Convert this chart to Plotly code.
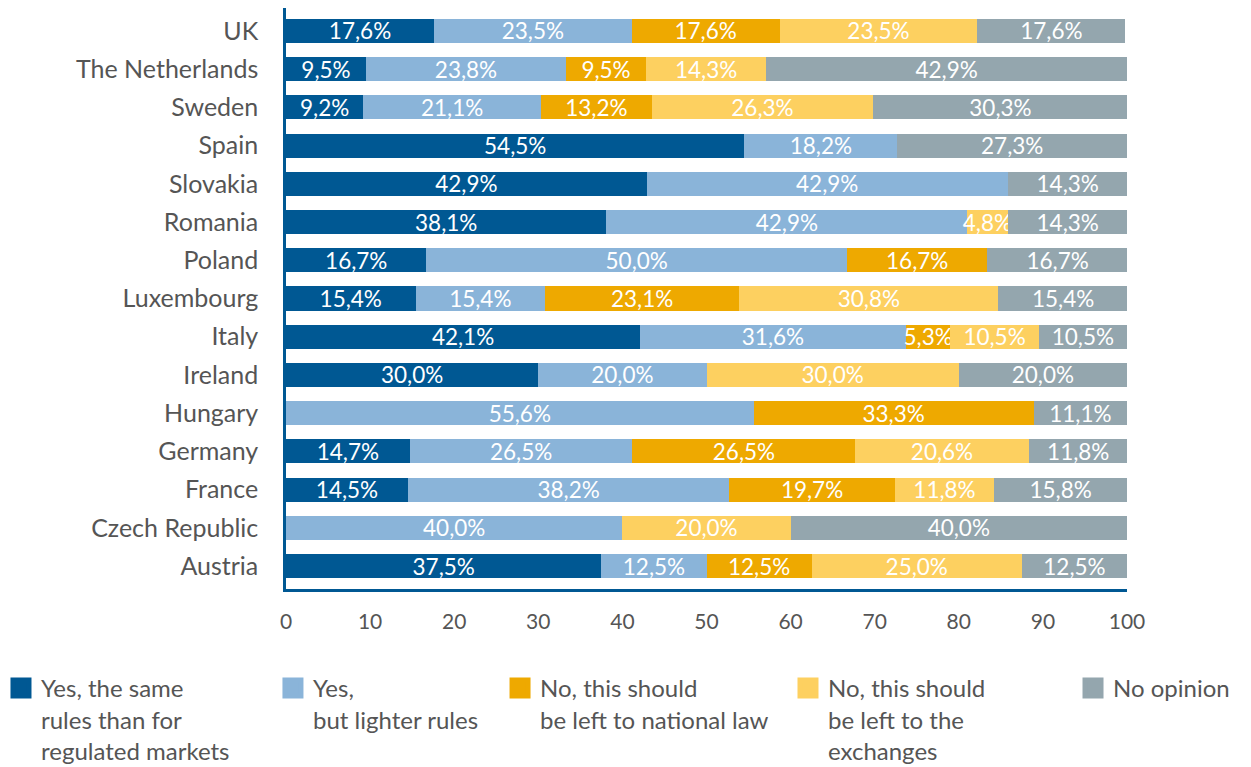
import plotly.graph_objects as go

countries = ["UK", "The Netherlands", "Sweden", "Spain", "Slovakia", "Romania", "Poland",
             "Luxembourg", "Italy", "Ireland", "Hungary", "Germany", "France",
             "Czech Republic", "Austria"]

series_names = [
    "Yes, the same<br>rules than for<br>regulated markets",
    "Yes,<br>but lighter rules",
    "No, this should<br>be left to national law",
    "No, this should<br>be left to the<br>exchanges",
    "No opinion",
]

same_rules = [17.6, 9.5, 9.2, 54.5, 42.9, 38.1, 16.7, 15.4, 42.1, 30.0, None, 14.7, 14.5, None, 37.5]
lighter_rules = [23.5, 23.8, 21.1, 18.2, 42.9, 42.9, 50.0, 15.4, 31.6, 20.0, 55.6, 26.5, 38.2, 40.0, 12.5]
national_law = [17.6, 9.5, 13.2, None, None, None, 16.7, 23.1, 5.3, None, 33.3, 26.5, 19.7, None, 12.5]
exchanges = [23.5, 14.3, 26.3, None, None, 4.8, None, 30.8, 10.5, 30.0, None, 20.6, 11.8, 20.0, 25.0]
no_opinion = [17.6, 42.9, 30.3, 27.3, 14.3, 14.3, 16.7, 15.4, 10.5, 20.0, 11.1, 11.8, 15.8, 40.0, 12.5]

colors = ["#005893", "#8AB4D9", "#EEA900", "#FDD060", "#94A6AE"]
all_series = [same_rules, lighter_rules, national_law, exchanges, no_opinion]

FONT = "Lato"
TXT = "#555555"
legend_ids = ["legend", "legend2", "legend3", "legend4", "legend5"]
legend_x = [-0.3389, -0.0155, 0.2545, 0.5969, 0.9358]

fig = go.Figure()
for name, vals, col in zip(series_names, all_series, colors):
    fig.add_trace(go.Bar(
        y=countries, x=vals, name=name, orientation="h", showlegend=False,
        marker=dict(color=col, line=dict(width=0)),
        texttemplate="%{x:.1f}%", textposition="inside", insidetextanchor="middle",
        textfont=dict(color="white", size=22.5, family=FONT),
        constraintext="none",
    ))

# legend-only entries with larger square symbols
for name, col, lid in zip(series_names, colors, legend_ids):
    fig.add_trace(go.Scatter(
        x=[None], y=[None], mode="markers", name=name, legend=lid, showlegend=True,
        marker=dict(symbol="square", color=col, size=16, line=dict(color=col, width=5)),
        hoverinfo="skip",
    ))

legend_common = dict(
    orientation="v", xanchor="left", y=-0.1325, yanchor="top",
    font=dict(size=24, color=TXT, family=FONT), valign="top",
    itemsizing="trace", bgcolor="rgba(0,0,0,0)", borderwidth=0,
)
legend_layout = {}
for lid, lx in zip(legend_ids, legend_x):
    legend_layout[lid] = dict(x=lx, **legend_common)

fig.update_layout(
    barmode="stack",
    bargap=0.37,
    separators=",.",
    width=1243, height=759,
    margin=dict(l=278, r=124, t=0, b=178, autoexpand=False),
    plot_bgcolor="white", paper_bgcolor="white",
    font=dict(family=FONT, color=TXT),
    uniformtext=dict(mode="show", minsize=22),
    showlegend=True,
    xaxis=dict(
        range=[0, 100], tickvals=[0, 10, 20, 30, 40, 50, 60, 70, 80, 90, 100],
        showgrid=False, zeroline=False,
        showline=True, linecolor="#005893", linewidth=2.5,
        ticks="outside", ticklen=12, tickcolor="rgba(0,0,0,0)",
        tickfont=dict(size=21, color=TXT, family=FONT),
    ),
    yaxis=dict(
        range=[14.6, -0.6], showgrid=False, zeroline=False,
        showline=True, linecolor="#005893", linewidth=2.5,
        ticks="outside", ticklen=20, tickcolor="rgba(0,0,0,0)",
        tickfont=dict(size=25, color=TXT, family=FONT),
    ),
    **legend_layout,
)

fig.write_html("out.html")
